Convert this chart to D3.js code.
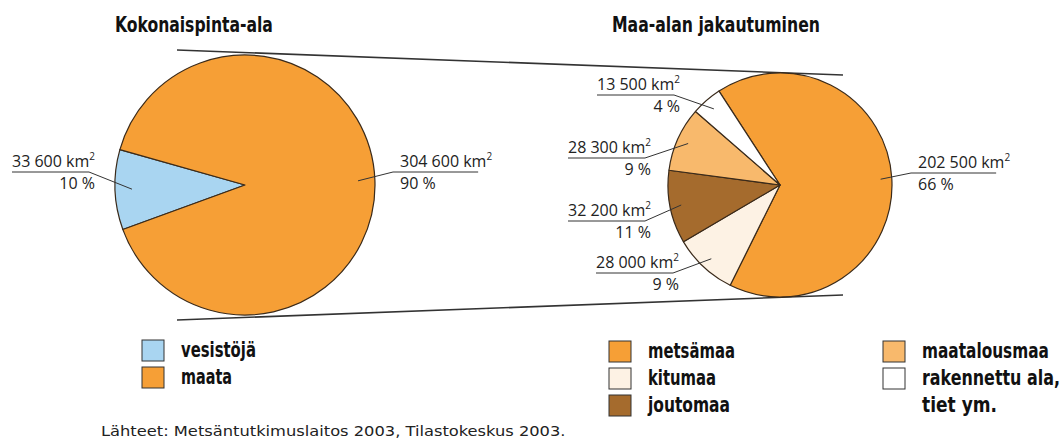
<!DOCTYPE html>
<html>
<head>
<meta charset="utf-8">
<script src="https://cdn.jsdelivr.net/npm/d3@7"></script>
<style>
  body { margin: 0; background: #fff; }
  svg { display: block; }
  .title, .legend text { font-family: "DejaVu Sans Condensed", "DejaVu Sans", sans-serif; font-stretch: condensed; font-weight: bold; fill: #111; }
  .label { font-family: "Open Sans", "Liberation Sans", sans-serif; font-size: 16px; fill: #222; }
  .source { font-family: "DejaVu Sans Condensed", "DejaVu Sans", sans-serif; font-stretch: condensed; font-size: 14px; fill: #222; }
</style>
</head>
<body>
<svg id="chart" width="1062" height="441"></svg>
<script>
// total area
const totalCategories = ["vesistöjä", "maata"];
const totalValues = [33600, 304600];
const totalPercents = [10, 90];

// land area split (pie order, clockwise)
const landCategories = ["metsämaa", "kitumaa", "joutomaa", "maatalousmaa", "rakennettu ala, tiet ym."];
const landValues = [202500, 28000, 32200, 28300, 13500];
const landPercents = [66, 9, 11, 9, 4];

const titles = ["Kokonaispinta-ala", "Maa-alan jakautuminen"];
const sourceText = "Lähteet: Metsäntutkimuslaitos 2003, Tilastokeskus 2003.";

const colors = {
  "vesistöjä": "#a9d5f1",
  "maata": "#f69f36",
  "metsämaa": "#f69f36",
  "kitumaa": "#fdf2e4",
  "joutomaa": "#a56b2d",
  "maatalousmaa": "#f8b96c",
  "rakennettu ala, tiet ym.": "#ffffff"
};
const strokeColor = "#3a2a1a";

const svg = d3.select("#chart");
const fmt = d3.format(",");
const kmText = v => fmt(v).replace(/,/g, " ") + " km";
const rad = deg => deg * Math.PI / 180;

const leftPie = { cx: 245, cy: 185, r: 130, start: 250 };
const rightPie = { cx: 780, cy: 185, r: 112, start: -33 };

// label placement: text anchor x, first baseline y, side
const leftLabels = [
  { x: 95, y: 167, anchor: "end" },
  { x: 400, y: 167, anchor: "start" }
];
const rightLabels = [
  { x: 918, y: 168, anchor: "start" },
  { x: 679, y: 268, anchor: "end" },
  { x: 651, y: 216, anchor: "end" },
  { x: 651, y: 153, anchor: "end" },
  { x: 680, y: 90, anchor: "end" }
];

// squeeze a text horizontally to a given width (the original uses a condensed face)
function fitText(sel, x, y, width) {
  const w0 = sel.node().getComputedTextLength();
  sel.attr("transform", `translate(${x},${y}) scale(${width / w0},1)`);
}

function drawPie(cfg, categories, values, percents, labels, leaderFrac) {
  const pie = d3.pie().sort(null)
    .startAngle(rad(cfg.start))
    .endAngle(rad(cfg.start) + 2 * Math.PI);
  const arcs = pie(values)
    .map((a, i) => Object.assign(a, { key: categories[i], pct: percents[i] }));
  const arc = d3.arc().innerRadius(0).outerRadius(cfg.r);
  const leaderArc = d3.arc().innerRadius(cfg.r * leaderFrac).outerRadius(cfg.r * leaderFrac);

  const g = svg.append("g").attr("transform", `translate(${cfg.cx},${cfg.cy})`);
  g.selectAll("path.slice")
    .data(arcs)
    .enter().append("path")
    .attr("class", "slice")
    .attr("d", arc)
    .attr("fill", d => colors[d.key])
    .attr("stroke", strokeColor)
    .attr("stroke-width", 1.2)
    .attr("stroke-linejoin", "round");

  arcs.forEach((d, i) => {
    const lab = labels[i];
    const t = svg.append("text")
      .attr("class", "label")
      .attr("x", lab.x).attr("y", lab.y)
      .attr("text-anchor", lab.anchor);
    t.append("tspan").text(kmText(d.value));
    t.append("tspan").text("2").attr("font-size", 10).attr("dy", -7);
    const w = t.node().getComputedTextLength();

    svg.append("text")
      .attr("class", "label")
      .attr("x", lab.x).attr("y", lab.y + 22)
      .attr("text-anchor", lab.anchor)
      .text(d.pct + " %");

    const p = leaderArc.centroid(d);
    const target = [cfg.cx + p[0], cfg.cy + p[1]];
    const uy = lab.y + 5;
    let x0, x1;
    if (lab.anchor === "end") { x0 = lab.x - w; x1 = lab.x - 6; }
    else { x0 = lab.x - 7; x1 = lab.x + w - 14; }
    svg.append("path")
      .attr("d", lab.anchor === "end"
        ? `M${x0},${uy}L${x1},${uy}L${target[0]},${target[1]}`
        : `M${x1},${uy}L${x0},${uy}L${target[0]},${target[1]}`)
      .attr("fill", "none")
      .attr("stroke", "#333")
      .attr("stroke-width", 1);
  });
}

// connector lines between pies
const conn = svg.append("g").attr("stroke", "#333").attr("stroke-width", 1.6).attr("fill", "none");
conn.append("line")
  .attr("x1", leftPie.cx - 68).attr("y1", leftPie.cy - leftPie.r - 5)
  .attr("x2", rightPie.cx + 63).attr("y2", rightPie.cy - rightPie.r + 2);
conn.append("line")
  .attr("x1", leftPie.cx - 68).attr("y1", leftPie.cy + leftPie.r + 5)
  .attr("x2", rightPie.cx + 63).attr("y2", rightPie.cy + rightPie.r - 2);

drawPie(leftPie, totalCategories, totalValues, totalPercents, leftLabels, 0.87);
drawPie(rightPie, landCategories, landValues, landPercents, rightLabels, 0.9);

// titles
const titleLayout = [
  { x: 115, y: 32, w: 158 },
  { x: 612, y: 32, w: 208 }
];
titles.forEach((t, i) => {
  const el = svg.append("text").attr("class", "title")
    .attr("font-size", 21)
    .text(t);
  fitText(el, titleLayout[i].x, titleLayout[i].y, titleLayout[i].w);
});

// legends
const legendItems = [
  { key: "vesistöjä", lines: ["vesistöjä"], w: [75], x: 142, y: 340 },
  { key: "maata", lines: ["maata"], w: [51], x: 142, y: 367 },
  { key: "metsämaa", lines: ["metsämaa"], w: [87], x: 609, y: 341 },
  { key: "kitumaa", lines: ["kitumaa"], w: [68], x: 609, y: 368 },
  { key: "joutomaa", lines: ["joutomaa"], w: [82], x: 609, y: 395 },
  { key: "maatalousmaa", lines: ["maatalousmaa"], w: [127], x: 883, y: 341 },
  { key: "rakennettu ala, tiet ym.", lines: ["rakennettu ala,", "tiet ym."], w: [138, 75], x: 883, y: 368 }
];
const legend = svg.append("g").attr("class", "legend");
const items = legend.selectAll("g.item")
  .data(legendItems)
  .enter().append("g")
  .attr("class", "item")
  .attr("transform", d => `translate(${d.x},${d.y})`);
items.append("rect")
  .attr("width", 22).attr("height", 21)
  .attr("fill", d => colors[d.key])
  .attr("stroke", "#333").attr("stroke-width", 1);
items.each(function (d) {
  const sel = d3.select(this);
  d.lines.forEach((ln, i) => {
    const el = sel.append("text")
      .attr("font-size", 21)
      .text(ln);
    fitText(el, 39, 17 + i * 27, d.w[i]);
  });
});

const src = svg.append("text").attr("class", "source").text(sourceText);
fitText(src, 101, 436, 465);
</script>
</body>
</html>
